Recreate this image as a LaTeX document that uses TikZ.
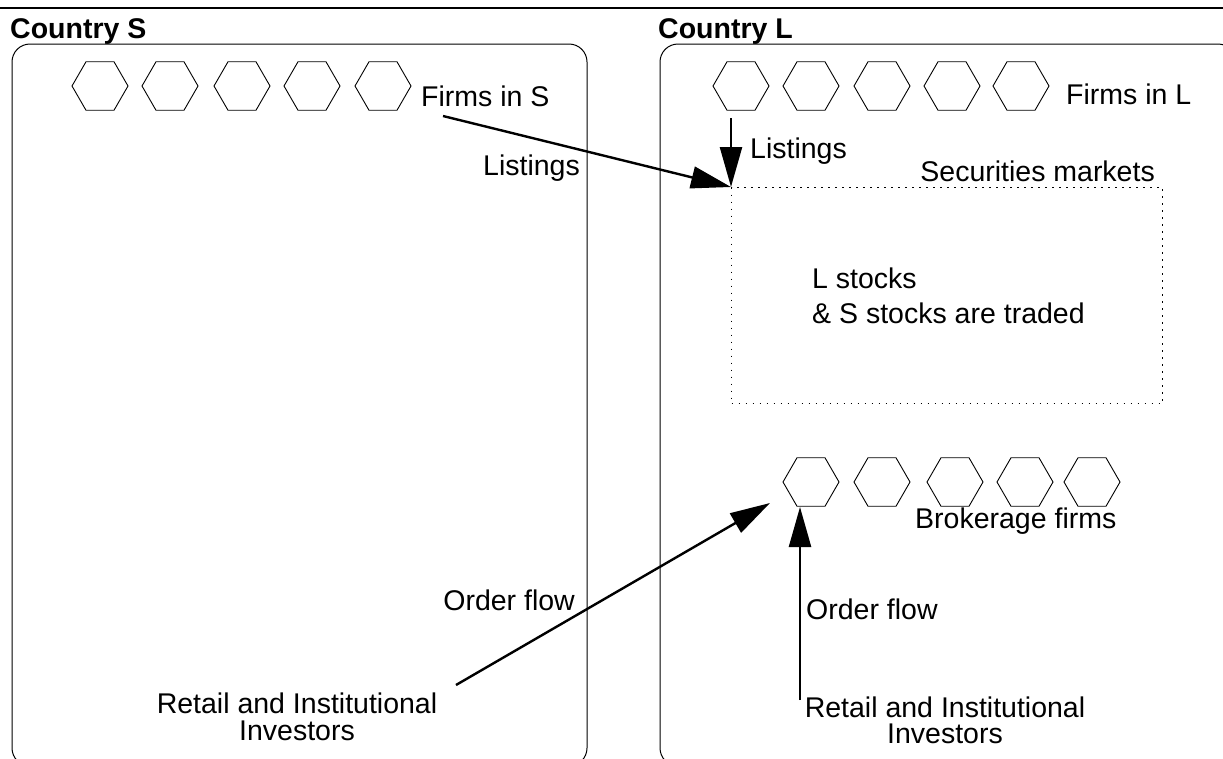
\documentclass[tikz,border=0pt]{standalone}
\usepackage{fontspec}
\setmainfont{Liberation Sans}
\usetikzlibrary{shapes.geometric,arrows.meta}
\begin{document}
\begin{tikzpicture}[x=1pt,y=-1pt,
  hex/.style={draw,regular polygon,regular polygon sides=6,minimum size=56pt,inner sep=0pt,line width=0.9pt},
  lbl/.style={inner sep=0pt,font=\fontsize{28.5}{27}\selectfont},
  ttl/.style={inner sep=0pt,font=\fontsize{28.5}{27}\selectfont\bfseries},
  country/.style={draw,rounded corners=18pt,line width=1pt},
  flow/.style={line width=2.4pt,-{Triangle[length=40pt,width=22pt]}},
]
\useasboundingbox (0,0) rectangle (1223,758);
\fill[white] (0,0) rectangle (1223,758);
% top rule
\draw[line width=2pt] (0,8) -- (1223,8);
% titles
\node[ttl,anchor=base west] (cS) at (10,38) {Country S};
\node[ttl,anchor=base west] (cL) at (658,38) {Country L};
% country frames
\draw[country] (12,44) rectangle (587,766);
\draw[country] (660,44) rectangle (1236,766);
% hexagons: firms in S
\foreach \x [count=\i] in {100,170,242,312,383} \node[hex] (hS\i) at (\x,86) {};
% hexagons: firms in L
\foreach \x [count=\i] in {741,811,882,952,1021} \node[hex] (hL\i) at (\x,86) {};
% hexagons: brokerage firms
\foreach \x [count=\i] in {811,882,955,1025,1092} \node[hex] (hB\i) at (\x,482) {};
% labels
\node[lbl,anchor=base west] (fS) at (421,106) {Firms in S};
\node[lbl,anchor=base east] (lS) at (580,175) {Listings};
\node[lbl,anchor=base west] (fL) at (1066,104) {Firms in L};
\node[lbl,anchor=base west] (lL) at (750,158) {Listings};
\node[lbl,anchor=base east] (secl) at (1155,181) {Securities markets};
\node[lbl,anchor=base west] (stk1) at (812,288) {L stocks};
\node[lbl,anchor=base west] (stk2) at (812,323) {\& S stocks are traded};
\node[lbl,anchor=base west] (brok) at (915,528) {Brokerage firms};
\node[lbl,anchor=base east] (ofS) at (575,610) {Order flow};
\node[lbl,anchor=base west] (ofL) at (806,619) {Order flow};
\node[lbl,anchor=base] (invS1) at (297,713) {Retail and Institutional};
\node[lbl,anchor=base] (invS2) at (297,740) {Investors};
\node[lbl,anchor=base] (invL1) at (945,717) {Retail and Institutional};
\node[lbl,anchor=base] (invL2) at (945,743) {Investors};
% securities market box
\node[draw,dash pattern=on 1.4pt off 5.6pt,line width=1.2pt,minimum width=431pt,minimum height=216pt,anchor=north west,inner sep=0pt] (sec) at (731,187) {};
% connectors
\coordinate (sS) at (443,116);
\coordinate (sL) at (731,118);
\coordinate (oS) at (456,685);
\coordinate (oSend) at (770,503);
\coordinate (oL) at (800,700);
\coordinate (oLend) at (800,507);
\draw[flow] (sS) -- (sec.north west);
\draw[flow] (sL) -- (sec.north west);
\draw[flow] (oS) -- (oSend);
\draw[flow] (oL) -- (oLend);
\end{tikzpicture}
\end{document}
